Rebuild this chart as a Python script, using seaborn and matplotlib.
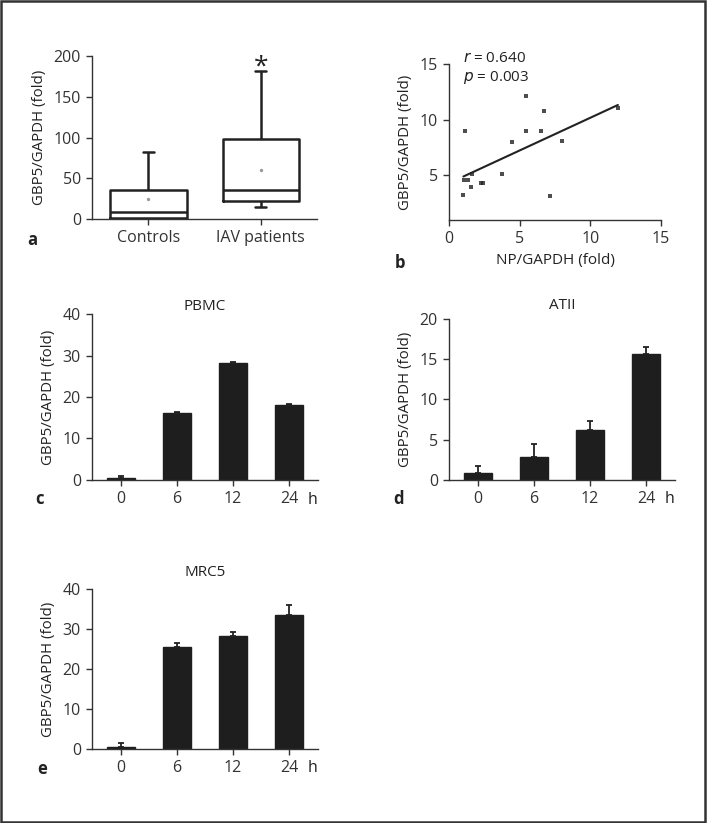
import numpy as np
import pandas as pd
import seaborn as sns
import matplotlib.pyplot as plt
from matplotlib.patches import Rectangle

# panel a: box summaries (min, q1, median, q3, max) and means
groups = ["Controls", "IAV patients"]
controls_box = [0, 1, 8, 35, 82]
iav_box = [15, 22, 35, 98, 181]
group_means = [24, 60]

# panel b: NP vs GBP5 scatter
np_fold = [1.13, 1.02, 1.09, 1.37, 1.60, 1.54, 2.24, 2.43, 3.78, 4.49,
           5.48, 5.48, 6.50, 6.73, 7.16, 8.03, 11.95]
gbp5_fold = [9.00, 3.26, 4.58, 4.58, 5.12, 3.92, 4.34, 4.34, 5.12, 7.97,
             12.12, 9.00, 9.02, 10.77, 3.17, 8.09, 11.07]

# panels c-e: time course
hours = ["0", "6", "12", "24"]
pbmc_mean = [0.6, 16.1, 28.3, 18.0]
pbmc_err = [0.3, 0.2, 0.2, 0.2]
atii_mean = [0.9, 2.8, 6.2, 15.6]
atii_err = [0.8, 1.7, 1.1, 0.9]
mrc5_mean = [0.5, 25.4, 28.3, 33.5]
mrc5_err = [0.9, 1.0, 1.0, 2.4]

sns.set_style("ticks")
plt.rcParams["font.family"] = ["Open Sans", "DejaVu Sans"]
plt.rcParams["font.size"] = 10
plt.rcParams["axes.edgecolor"] = "#333333"
plt.rcParams["xtick.color"] = "#333333"
plt.rcParams["ytick.color"] = "#333333"
plt.rcParams["text.color"] = "#222222"
plt.rcParams["axes.labelcolor"] = "#222222"

W, H = 707, 823
fig = plt.figure(figsize=(W / 100, H / 100), dpi=100)
YLAB = 10.8


def add_axes(left, right, top, bottom):
    return fig.add_axes([left / W, 1 - bottom / H, (right - left) / W, (bottom - top) / H])


def style(ax):
    sns.despine(ax=ax)
    ax.spines["left"].set_linewidth(1.0)
    ax.spines["bottom"].set_linewidth(1.0)
    ax.tick_params(length=4, width=1.0, labelsize=11.5, pad=4)


LINE = "#222222"

# ---- a: boxplot
ax_a = add_axes(92, 317, 56, 219)
box_df = pd.DataFrame({
    "group": [groups[0]] * 5 + [groups[1]] * 5,
    "value": controls_box + iav_box,
})
sns.boxplot(data=box_df, x="group", y="value", order=groups, whis=(0, 100),
            width=0.68, fill=False, color=LINE, linewidth=1.8,
            capwidths=0.1, ax=ax_a)
ax_a.scatter(range(len(groups)), group_means, s=2, color="#999999", zorder=5)
ax_a.set_ylim(0, 200)
ax_a.set_xlim(-0.5, 1.5)
ax_a.set_yticks([0, 50, 100, 150, 200])
ax_a.set_xlabel("")
ax_a.set_ylabel("GBP5/GAPDH (fold)", fontsize=YLAB, labelpad=5)
ax_a.text(1, 187, "*", ha="center", va="center", fontsize=19)
style(ax_a)

# ---- b: correlation
ax_b = add_axes(449, 661, 64, 220)
scat_df = pd.DataFrame({"np": np_fold, "gbp5": gbp5_fold})
sns.regplot(data=scat_df, x="np", y="gbp5", ci=None, ax=ax_b,
            marker="s", scatter_kws={"s": 9, "color": LINE, "linewidths": 0},
            line_kws={"color": LINE, "lw": 1.5})
ax_b.set_xlim(0, 15)
ax_b.set_ylim(1, 15)
ax_b.set_xticks([0, 5, 10, 15])
ax_b.set_yticks([5, 10, 15])
ax_b.set_xlabel("NP/GAPDH (fold)", fontsize=11, labelpad=4)
ax_b.set_ylabel("GBP5/GAPDH (fold)", fontsize=YLAB, labelpad=5)
ax_b.text(1.0, 15.5, r"$r$ = 0.640", ha="left", va="center", fontsize=11)
ax_b.text(1.0, 13.8, r"$p$ = 0.003", ha="left", va="center", fontsize=11)
style(ax_b)


def bar_panel(box, means, errs, ymax, yticks, title, title_gap):
    ax = add_axes(*box)
    df = pd.DataFrame({"h": hours, "v": means})
    sns.barplot(data=df, x="h", y="v", order=hours, color="#1e1e1e",
                saturation=1, width=0.5, edgecolor="#1e1e1e", ax=ax)
    ax.errorbar(range(len(hours)), means, yerr=[np.zeros(len(errs)), errs],
                fmt="none", ecolor=LINE, elinewidth=1.3, capsize=2, capthick=1.3)
    ax.set_xlim(-0.52, 3.52)
    ax.set_ylim(0, ymax)
    ax.set_yticks(yticks)
    ax.set_xlabel("")
    ax.set_ylabel("GBP5/GAPDH (fold)", fontsize=YLAB, labelpad=5)
    ax.set_title(title, fontsize=11, pad=title_gap)
    ax.text(0.975, -0.118, "h", transform=ax.transAxes, ha="center", va="center", fontsize=11.5)
    style(ax)
    return ax


ax_c = bar_panel((92, 318, 314, 480), pbmc_mean, pbmc_err, 40, [0, 10, 20, 30, 40], "PBMC", 3)
ax_d = bar_panel((449, 675, 319, 480), atii_mean, atii_err, 20, [0, 5, 10, 15, 20], "ATII", 7)
ax_e = bar_panel((92, 318, 589, 749), mrc5_mean, mrc5_err, 40, [0, 10, 20, 30, 40], "MRC5", 9)

# panel letters
for lab, x, y in [("a", 32, 240), ("b", 400, 263), ("c", 39, 499), ("d", 399, 499), ("e", 42, 769)]:
    fig.text(x / W, 1 - y / H, lab, ha="center", va="center", fontsize=12, fontweight="bold")

# outer frame
fig.patches.append(Rectangle((0.0015, 0.0015), 0.996, 0.997, transform=fig.transFigure,
                             fill=False, edgecolor="#333333", linewidth=1.8))

fig.savefig("out.png", dpi=100)
